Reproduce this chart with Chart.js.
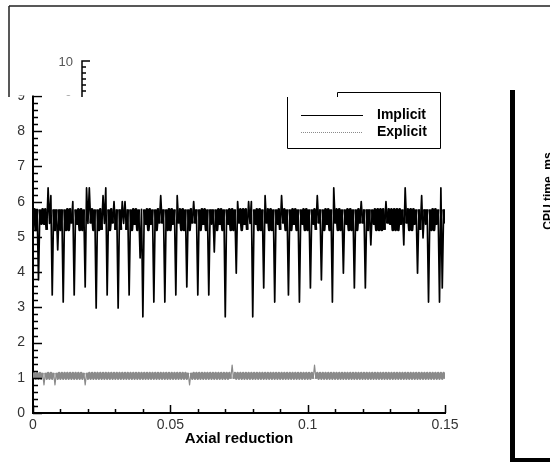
<!DOCTYPE html>
<html>
<head>
<meta charset="utf-8">
<script src="https://cdn.jsdelivr.net/npm/chart.js@4.4.1/dist/chart.umd.min.js"></script>
<style>
  html, body { margin: 0; padding: 0; background: #fff; }
  canvas { display: block; }
</style>
</head>
<body>
<canvas id="c" width="550" height="464"></canvas>
<script>
// sampling interval of the axial-reduction axis (one sample per step)
const STEP = 0.0005;

// CPU time (ms), implicit scheme, one value per sample
const implicitTime = [
  5.38,5.78,5.2,5.78,3.78,5.78,5.38,5.78,5.38,5.78,
  5.2,6.39,5.38,6.17,3.35,5.78,5.2,5.78,4.63,5.78,
  5.2,5.78,3.15,5.78,5.2,5.78,5.2,5.78,5.38,6.0,
  3.35,5.78,5.38,5.78,5.2,5.78,5.2,5.78,3.58,6.39,
  5.38,6.39,5.38,5.78,5.2,5.78,2.98,5.78,5.2,5.78,
  5.2,6.17,5.38,6.39,3.35,5.78,5.2,5.78,5.38,6.0,
  5.2,5.78,2.98,5.78,5.2,6.0,5.38,6.0,5.2,5.78,
  3.35,5.78,5.2,5.78,5.38,5.78,5.2,5.78,4.4,5.78,
  2.73,5.78,5.38,5.78,5.2,5.78,5.38,5.78,3.15,5.78,
  5.2,5.78,5.38,6.17,5.38,5.78,3.15,5.78,5.2,5.78,
  5.2,5.78,5.38,5.78,3.35,6.17,5.38,5.78,5.2,5.78,
  5.2,5.78,3.58,5.78,5.2,5.78,5.38,6.0,5.38,5.78,
  3.35,5.78,5.2,5.78,5.38,5.78,5.2,5.78,3.35,5.78,
  5.38,5.78,4.57,5.78,5.2,5.78,5.38,5.78,5.2,5.78,
  2.73,5.78,5.38,5.78,5.2,5.78,5.2,5.78,3.97,6.0,
  5.38,5.78,5.2,5.78,5.38,5.78,5.2,6.0,5.38,6.0,
  2.73,5.78,5.38,5.78,5.2,5.78,5.2,5.78,3.55,6.17,
  5.38,5.78,5.2,5.78,5.2,5.78,3.15,5.78,5.38,5.78,
  5.2,6.17,5.38,5.78,5.2,5.78,3.35,5.78,5.2,5.78,
  5.38,5.78,5.2,5.78,3.15,5.78,5.38,5.78,5.2,5.78,
  5.2,5.78,3.55,5.78,5.38,5.78,5.2,6.17,5.38,5.78,
  3.78,5.78,5.2,5.78,5.38,5.78,5.2,5.78,3.15,6.39,
  5.38,5.78,5.2,5.78,5.2,5.78,3.97,5.78,5.38,5.78,
  5.2,5.78,5.2,5.78,3.55,5.78,5.2,5.78,5.38,6.0,
  5.38,5.78,3.55,5.78,5.2,5.78,4.77,5.78,5.38,5.78,
  5.2,5.78,5.2,5.78,5.2,5.78,5.2,6.0,5.38,5.78,
  5.38,5.78,5.2,5.78,5.2,5.78,5.2,5.78,5.38,5.78,
  4.77,6.39,5.38,5.78,5.2,5.78,5.2,5.78,5.38,5.78,
  3.97,5.78,5.2,6.17,4.97,5.78,5.38,5.78,3.15,5.78,
  5.2,5.78,5.2,5.78,5.38,5.78,3.15,6.39,3.55,5.78,
  5.38
];

// CPU time (ms), explicit scheme, one value per sample
const explicitTime = [
  0.97,1.14,0.97,1.14,0.97,1.14,0.97,1.14,0.8,1.14,
  0.97,1.14,0.97,1.14,0.97,1.14,0.8,1.14,0.97,1.14,
  0.97,1.14,0.97,1.14,0.97,1.14,0.97,1.14,0.97,1.14,
  0.97,1.14,0.97,1.14,0.97,1.14,0.97,1.14,0.8,1.14,
  0.97,1.14,0.97,1.14,0.97,1.14,0.97,1.14,0.97,1.14,
  0.97,1.14,0.97,1.14,0.97,1.14,0.97,1.14,0.97,1.14,
  0.97,1.14,0.97,1.14,0.97,1.14,0.97,1.14,0.97,1.14,
  0.97,1.14,0.97,1.14,0.97,1.14,0.97,1.14,0.97,1.14,
  0.97,1.14,0.97,1.14,0.97,1.14,0.97,1.14,0.97,1.14,
  0.97,1.14,0.97,1.14,0.97,1.14,0.97,1.14,0.97,1.14,
  0.97,1.14,0.97,1.14,0.97,1.14,0.97,1.14,0.97,1.14,
  0.97,1.14,0.97,1.14,0.8,1.14,0.97,1.14,0.97,1.14,
  0.97,1.14,0.97,1.14,0.97,1.14,0.97,1.14,0.97,1.14,
  0.97,1.14,0.97,1.14,0.97,1.14,0.97,1.14,0.97,1.14,
  0.97,1.14,0.97,1.14,0.97,1.36,0.97,1.14,0.97,1.14,
  0.97,1.14,0.97,1.14,0.97,1.14,0.97,1.14,0.97,1.14,
  0.97,1.14,0.97,1.14,0.97,1.14,0.97,1.14,0.97,1.14,
  0.97,1.14,0.97,1.14,0.97,1.14,0.97,1.14,0.97,1.14,
  0.97,1.14,0.97,1.14,0.97,1.14,0.97,1.14,0.97,1.14,
  0.97,1.14,0.97,1.14,0.97,1.14,0.97,1.14,0.97,1.14,
  0.97,1.14,0.97,1.14,0.97,1.36,0.97,1.14,0.97,1.14,
  0.97,1.14,0.97,1.14,0.97,1.14,0.97,1.14,0.97,1.14,
  0.97,1.14,0.97,1.14,0.97,1.14,0.97,1.14,0.97,1.14,
  0.97,1.14,0.97,1.14,0.97,1.14,0.97,1.14,0.97,1.14,
  0.97,1.14,0.97,1.14,0.97,1.14,0.97,1.14,0.97,1.14,
  0.97,1.14,0.97,1.14,0.97,1.14,0.97,1.14,0.97,1.14,
  0.97,1.14,0.97,1.14,0.97,1.14,0.97,1.14,0.97,1.14,
  0.97,1.14,0.97,1.14,0.97,1.14,0.97,1.14,0.97,1.14,
  0.97,1.14,0.97,1.14,0.97,1.14,0.97,1.14,0.97,1.14,
  0.97,1.14,0.97,1.14,0.97,1.14,0.97,1.14,0.97,1.14,
  0.97
];

const seriesNames = ['Implicit', 'Explicit'];
const xTicks = [0, 0.05, 0.1, 0.15];
const xTickLabels = ['0', '0.05', '0.1', '0.15'];
const yTicks = [0, 1, 2, 3, 4, 5, 6, 7, 8, 9];
const yTickLabels = ['0', '1', '2', '3', '4', '5', '6', '7', '8', '9'];
const xTitle = 'Axial reduction';
const rightTitle = 'CPU time, ms';
const insetTickLabels = ['10', '0'];

const FONT = "'Liberation Sans', Arial, sans-serif";

const toPoints = arr => arr.map((y, i) => ({ x: i * STEP, y }));

// thick stroke inside the oscillation band, thinner stroke for isolated spikes
const bandWidth = (lo, hi, thick, thin) => c => {
  const a = c.p0.parsed.y, b = c.p1.parsed.y;
  return (a >= lo && a <= hi && b >= lo && b <= hi) ? thick : thin;
};

const decorations = {
  id: 'decorations',
  afterDraw(chart) {
    const { ctx, chartArea: ca } = chart;
    const xs = chart.scales.x, ys = chart.scales.y;
    ctx.save();
    // inward ticks on the y axis
    ctx.strokeStyle = '#000';
    ctx.lineWidth = 1.5;
    ctx.beginPath();
    for (let k = 0; k <= 45; k++) {
      const v = k * 0.2;
      const py = Math.round(ys.getPixelForValue(v)) + 0.5;
      const len = (k % 5 === 0) ? 9 : 5;
      ctx.moveTo(ca.left, py); ctx.lineTo(ca.left + len, py);
    }
    // inward ticks on the x axis
    for (let k = 0; k <= 15; k++) {
      const v = k * 0.01;
      const px = Math.round(xs.getPixelForValue(v)) + 0.5;
      const len = (k % 5 === 0) ? 8 : 4;
      ctx.moveTo(px, ca.bottom); ctx.lineTo(px, ca.bottom - len);
    }
    ctx.stroke();

    // white overlay at top (the composite's upper panel)
    ctx.fillStyle = '#fff';
    ctx.fillRect(0, 0, 508, 95.5);

    // outer frame of the upper panel
    ctx.strokeStyle = '#222';
    ctx.lineWidth = 1.5;
    ctx.beginPath();
    ctx.moveTo(9, 6); ctx.lineTo(550, 6);
    ctx.moveTo(9, 6); ctx.lineTo(9, 97);
    ctx.stroke();

    // small inset axis fragment
    ctx.strokeStyle = '#000';
    ctx.lineWidth = 1.5;
    ctx.beginPath();
    ctx.moveTo(90, 61); ctx.lineTo(82, 61); ctx.lineTo(82, 97);
    [67, 73, 79, 85, 91].forEach(y => { ctx.moveTo(82, y); ctx.lineTo(86, y); });
    ctx.stroke();
    ctx.fillStyle = '#555';
    ctx.font = '13px ' + FONT;
    ctx.textAlign = 'right';
    ctx.textBaseline = 'middle';
    ctx.fillText(insetTickLabels[0], 73, 62);
    ctx.save();
    ctx.beginPath(); ctx.rect(0, 0, 550, 95.5); ctx.clip();
    ctx.fillText(insetTickLabels[1], 72, 100);
    ctx.restore();

    // legend box
    ctx.strokeStyle = '#000';
    ctx.lineWidth = 1;
    ctx.fillStyle = '#fff';
    ctx.fillRect(287.5, 97, 152.5, 51);
    ctx.beginPath();
    ctx.moveTo(337.5, 97); ctx.lineTo(337.5, 92.5); ctx.lineTo(440.5, 92.5);
    ctx.lineTo(440.5, 148.5); ctx.lineTo(287.5, 148.5); ctx.lineTo(287.5, 97);
    ctx.stroke();
    const ds = chart.data.datasets;
    const rows = [115, 132];
    ds.forEach((d, i) => {
      ctx.save();
      ctx.strokeStyle = d.borderColor;
      ctx.lineWidth = 1;
      ctx.setLineDash(i === 1 ? [1, 1] : []);
      ctx.beginPath();
      ctx.moveTo(301, rows[i] + 0.5); ctx.lineTo(363, rows[i] + 0.5);
      ctx.stroke();
      ctx.restore();
      ctx.fillStyle = '#000';
      ctx.font = 'bold 14px ' + FONT;
      ctx.textAlign = 'left';
      ctx.textBaseline = 'middle';
      ctx.fillText(d.label, 377, rows[i]);
    });

    // right panel fragment
    ctx.fillStyle = '#000';
    ctx.fillRect(510, 90, 5, 372);
    ctx.fillRect(510, 458, 40, 4);
    ctx.save();
    ctx.translate(552, 191);
    ctx.rotate(-Math.PI / 2);
    ctx.font = 'bold 12px ' + FONT;
    ctx.textAlign = 'center';
    ctx.textBaseline = 'alphabetic';
    ctx.fillStyle = '#000';
    ctx.fillText(rightTitle, 0, 0);
    ctx.restore();

    ctx.restore();
  }
};

new Chart(document.getElementById('c'), {
  type: 'line',
  data: {
    datasets: [
      {
        label: seriesNames[0],
        data: toPoints(implicitTime),
        borderColor: '#000',
        borderWidth: 2.8,
        borderJoinStyle: 'round',
        pointRadius: 0,
        tension: 0,
        segment: { borderWidth: bandWidth(5.1, 5.85, 2.8, 1.7) }
      },
      {
        label: seriesNames[1],
        data: toPoints(explicitTime),
        borderColor: '#8a8a8a',
        borderWidth: 2.4,
        borderJoinStyle: 'round',
        pointRadius: 0,
        tension: 0,
        segment: { borderWidth: bandWidth(0.9, 1.2, 2.4, 1.2) }
      }
    ]
  },
  options: {
    responsive: false,
    animation: false,
    layout: { padding: { top: 96, right: 105, left: 0, bottom: 0 } },
    plugins: { legend: { display: false }, tooltip: { enabled: false } },
    scales: {
      x: {
        type: 'linear',
        min: 0, max: 0.15,
        grid: { display: false, drawTicks: false },
        border: { display: true, color: '#000', width: 2 },
        afterBuildTicks: s => { s.ticks = xTicks.map(v => ({ value: v })); },
        afterFit: s => { s.height = 51; },
        ticks: {
          autoSkip: false, maxRotation: 0, padding: 4,
          color: '#333',
          font: { family: FONT, size: 14 },
          callback: (v, i) => xTickLabels[i]
        },
        title: {
          display: true, text: xTitle, color: '#000',
          font: { family: FONT, size: 15, weight: 'bold' },
          padding: { top: 0, bottom: 16 }
        }
      },
      y: {
        min: 0, max: 9,
        grid: { display: false, drawTicks: false },
        border: { display: true, color: '#000', width: 2 },
        afterBuildTicks: s => { s.ticks = yTicks.map(v => ({ value: v })); },
        afterFit: s => { s.width = 33; },
        ticks: {
          autoSkip: false, padding: 8,
          color: '#333',
          font: { family: FONT, size: 14 },
          callback: (v, i) => yTickLabels[i]
        }
      }
    }
  },
  plugins: [decorations]
});
</script>
</body>
</html>
